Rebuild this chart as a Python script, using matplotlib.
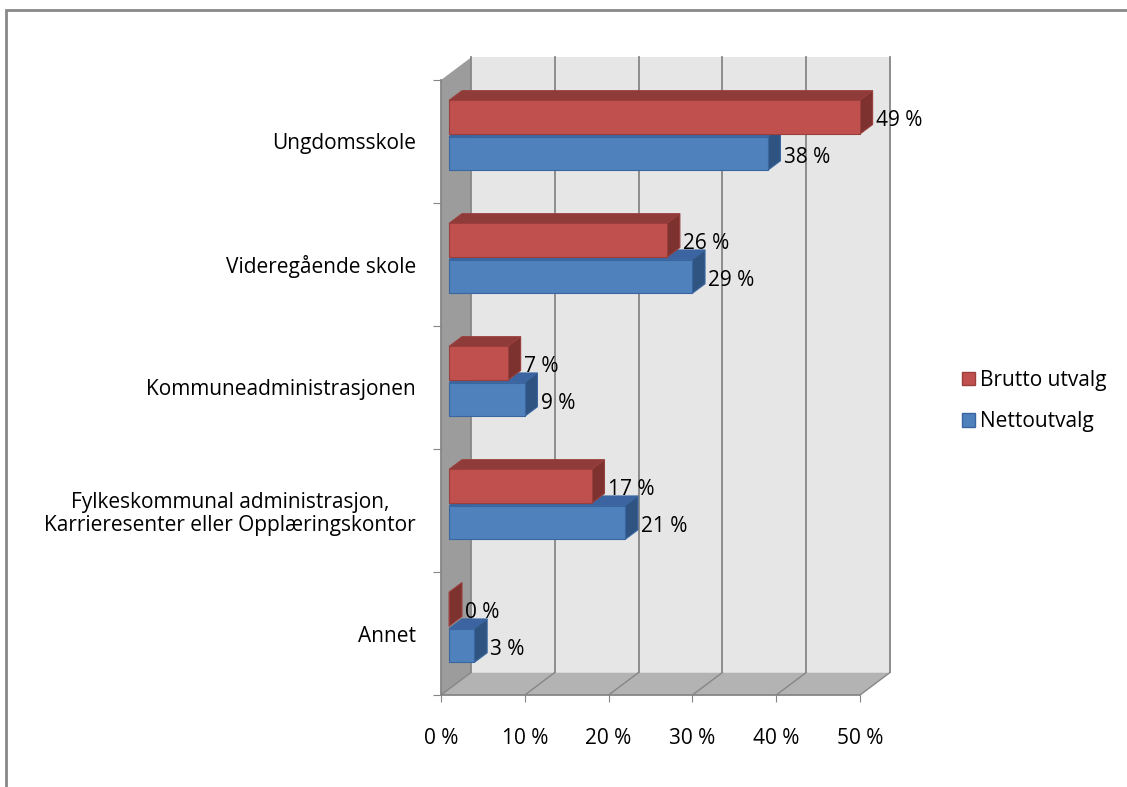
import matplotlib
matplotlib.use("Agg")
import matplotlib.pyplot as plt
from matplotlib.patches import Polygon, Rectangle, Patch

plt.rcParams['font.family'] = ['Open Sans', 'DejaVu Sans']

# data (percent)
categories = [
    'Ungdomsskole',
    'Videregående skole',
    'Kommuneadministrasjonen',
    'Fylkeskommunal administrasjon,\nKarrieresenter eller Opplæringskontor',
    'Annet',
]
brutto = [49, 26, 7, 17, 0]
netto = [38, 29, 9, 21, 3]
series_names = ['Brutto utvalg', 'Nettoutvalg']
xticks = [0, 10, 20, 30, 40, 50]
xtick_labels = ['0 %', '10 %', '20 %', '30 %', '40 %', '50 %']

# colours: front, top, side, edge
red = ('#C0504D', '#8E3B39', '#7D3230', '#9A3F3C')
blue = ('#4F81BD', '#3C64A0', '#2F5482', '#3A66A0')

W, H = 1127, 787
fig = plt.figure(figsize=(W / 100, H / 100), dpi=100)
ax = fig.add_axes([441 / W, (H - 695) / H, (860 - 441) / W, (695 - 80) / H])
ax.set_xlim(0, 50)
ax.set_ylim(0, 5)

# depth of the 3d box, in data units
DX = 3.58
DY = 0.183
f0, f1 = 0.27, 0.70
grid_col = '#868686'
fs = 15

# walls
ax.add_patch(Polygon([(DX, DY), (50 + DX, DY), (50 + DX, 5 + DY), (DX, 5 + DY)],
                     closed=True, facecolor='#E6E6E6', edgecolor='none', zorder=0.5, clip_on=False))
ax.add_patch(Polygon([(0, 0), (DX, DY), (DX, 5 + DY), (0, 5)],
                     closed=True, facecolor='#9C9C9C', edgecolor='none', zorder=0.6, clip_on=False))
ax.add_patch(Polygon([(0, 0), (50, 0), (50 + DX, DY), (DX, DY)],
                     closed=True, facecolor='#B3B3B3', edgecolor='none', zorder=0.6, clip_on=False))
for t in xticks:
    ax.plot([t + DX, t + DX], [DY, 5 + DY], color=grid_col, lw=1.3, zorder=0.7, clip_on=False)
    ax.plot([t, t + DX], [0, DY], color=grid_col, lw=1.0, zorder=0.7, clip_on=False)

# bars
h = 0.275
gap = 0.01
n = len(categories)


def draw_bar(v, yb, cols):
    yt = yb + h
    x0, x1 = f0 * DX, f1 * DX
    o0, o1 = f0 * DY, f1 * DY
    front = [(x0, yb + o0), (x0 + v, yb + o0), (x0 + v, yt + o0), (x0, yt + o0)]
    top = [(x0, yt + o0), (x0 + v, yt + o0), (x1 + v, yt + o1), (x1, yt + o1)]
    side = [(x0 + v, yb + o0), (x1 + v, yb + o1), (x1 + v, yt + o1), (x0 + v, yt + o0)]
    for pts, c in [(top, cols[1]), (side, cols[2]), (front, cols[0])]:
        ax.add_patch(Polygon(pts, closed=True, facecolor=c, edgecolor=cols[3],
                             lw=0.8, zorder=3, clip_on=False))
    ax.text(x1 + v + 0.4, (yb + yt) / 2 + o0 - 0.03, '%d %%' % v, ha='left', va='center',
            fontsize=fs, color='black', zorder=5)


# draw from bottom category up so upper bars overlap properly
for i in range(n - 1, -1, -1):
    c = n - 1 - i + 0.5
    draw_bar(netto[i], c - gap - h, blue)
    draw_bar(brutto[i], c + gap, red)

# axes
for s in ['top', 'right']:
    ax.spines[s].set_visible(False)
for s in ['left', 'bottom']:
    ax.spines[s].set_color(grid_col)
    ax.spines[s].set_linewidth(1.3)
    ax.spines[s].set_zorder(1)

ax.set_xticks(xticks)
ax.set_xticklabels(xtick_labels, fontsize=fs)
ax.tick_params(axis='x', direction='out', length=5, color=grid_col, pad=19)

ax.set_yticks(range(n + 1))
ax.set_yticklabels([])
ax.tick_params(axis='y', which='major', direction='out', length=6, color=grid_col)
ax.set_yticks([n - 1 - i + 0.5 for i in range(n)], minor=True)
ax.set_yticklabels(categories, minor=True, fontsize=fs)
ax.tick_params(axis='y', which='minor', length=0, pad=18)
for lab in ax.get_yticklabels(minor=True):
    lab.set_multialignment('center')
    lab.set_linespacing(1.1)

# legend
handles = [Patch(facecolor=red[0], edgecolor=red[3]), Patch(facecolor=blue[0], edgecolor=blue[3])]
fig.legend(handles, series_names, loc='center left', bbox_to_anchor=(962 / W, 1 - 401 / H),
           frameon=False, fontsize=fs, handlelength=0.6, handleheight=0.6,
           handletextpad=0.25, labelspacing=1.0, borderpad=0, borderaxespad=0)

# chart border
fig.add_artist(Rectangle((6 / W, -0.1), 1.2, 1.1 - 10 / H, transform=fig.transFigure,
                         fill=False, edgecolor='#888888', lw=2))

fig.savefig('out.png', dpi=100)
